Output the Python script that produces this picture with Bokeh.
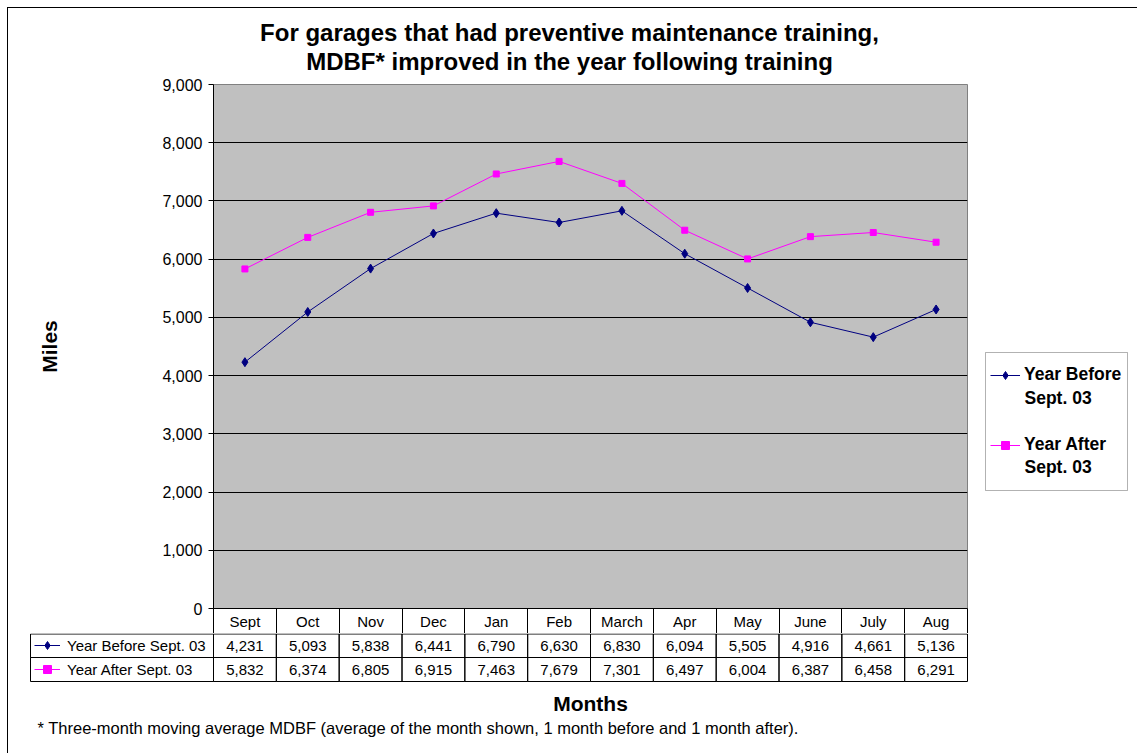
from bokeh.plotting import figure
from bokeh.layouts import column, row
from bokeh.models import (Range1d, FixedTicker, NumeralTickFormatter, Label, BoxAnnotation,
                          Legend, LegendItem, ColumnDataSource, LinearAxis)
from bokeh.core.properties import value
from bokeh.embed import file_html
from bokeh.resources import INLINE

months = ["Sept", "Oct", "Nov", "Dec", "Jan", "Feb", "March", "Apr", "May", "June", "July", "Aug"]
year_before = [4231, 5093, 5838, 6441, 6790, 6630, 6830, 6094, 5505, 4916, 4661, 5136]
year_after = [5832, 6374, 6805, 6915, 7463, 7679, 7301, 6497, 6004, 6387, 6458, 6291]
series_names = ["Year Before Sept. 03", "Year After Sept. 03"]
legend_first = ["Year Before", "Year After"]
legend_second = ["Sept. 03", "Sept. 03"]
y_ticks = [0, 1000, 2000, 3000, 4000, 5000, 6000, 7000, 8000, 9000]
title_lines = ["For garages that had preventive maintenance training,",
               "MDBF* improved in the year following training"]
footnote = "* Three-month moving average MDBF (average of the month shown, 1 month before and 1 month after)."

FONT = "Liberation Sans"
BLUE = "#000080"
MAGENTA = "#FF00FF"

OFF = 8                              # page offset of the figures (border + margin)
TOTAL_W = 1137 - OFF
FL, FR, FT, FB = 213, 967, 84, 608   # plot area edges (page px)
HDR = 633                            # bottom of table header row (page px)
T_BOT = 77                           # bottom of the title strip (page px)
P_RIGHT = 968                        # right edge of main figure (page px)

xs = list(range(len(months)))

# ---------------- title strip ----------------
t = figure(width=TOTAL_W, height=T_BOT - OFF, output_backend="svg", toolbar_location=None,
           x_range=Range1d(0, 1), y_range=Range1d(0, 1),
           x_axis_location=None, y_axis_location=None,
           min_border_left=0, min_border_right=0, min_border_top=0, min_border_bottom=0)
t.frame_align = False
t.outline_line_color = None
t.grid.visible = False
for line, py in zip(title_lines, [32, 61]):
    t.add_layout(Label(x=569 - OFF, y=T_BOT - py, x_units="screen", y_units="screen", text=line,
                       text_font=FONT, text_font_size="24px", text_font_style="bold",
                       text_align="center", text_baseline="middle", text_color="black"))

# ---------------- main chart ----------------
p = figure(width=P_RIGHT - OFF, height=HDR - T_BOT, output_backend="svg", toolbar_location=None,
           x_range=Range1d(-0.5, len(months) - 0.5), y_range=Range1d(0, 9000),
           x_axis_location=None,
           min_border_left=FL - OFF, min_border_right=P_RIGHT - FR,
           min_border_top=FT - T_BOT, min_border_bottom=HDR - FB)
p.frame_align = False
p.background_fill_color = "#C0C0C0"
p.border_fill_color = "white"
p.outline_line_color = "#808080"
p.xgrid.visible = False
p.ygrid.ticker = FixedTicker(ticks=y_ticks)
p.ygrid.grid_line_color = "black"
p.ygrid.grid_line_width = 1
yax = p.yaxis[0]
yax.ticker = FixedTicker(ticks=y_ticks)
yax.formatter = NumeralTickFormatter(format="0,0")
yax.major_tick_out = 5
yax.major_tick_in = 0
yax.minor_tick_line_color = None
yax.axis_line_color = "black"
yax.major_tick_line_color = "black"
yax.major_label_text_font = FONT
yax.major_label_text_font_size = "16px"
yax.major_label_text_color = "black"
yax.major_label_standoff = 6
yax.axis_label = "Miles"
yax.axis_label_text_font = FONT
yax.axis_label_text_font_size = "21px"
yax.axis_label_text_font_style = "bold"
yax.axis_label_text_color = "black"
yax.axis_label_standoff = 98

# month header row of the data table = the x axis
row_h = HDR - FB
xax = LinearAxis(ticker=FixedTicker(ticks=xs, minor_ticks=[i - 0.5 for i in xs] + [len(xs) - 0.5]),
                 major_label_overrides={i: m for i, m in enumerate(months)},
                 major_tick_out=0, major_tick_in=0, major_tick_line_color=None,
                 minor_tick_out=row_h, minor_tick_in=0, minor_tick_line_color="black",
                 axis_line_color="black", major_label_standoff=4 - row_h,
                 major_label_text_font=FONT, major_label_text_font_size="15px",
                 major_label_text_color="black")
p.add_layout(xax, "below")

lb = p.line(xs, year_before, line_color=BLUE, line_width=1)
sb = p.scatter(xs, year_before, marker="diamond", size=9, fill_color=BLUE, line_color=BLUE)
la = p.line(xs, year_after, line_color=MAGENTA, line_width=1)
sa = p.scatter(xs, year_after, marker="square", size=6, fill_color=MAGENTA, line_color=MAGENTA)

# ---------------- legend strip ----------------
r = figure(width=1137 - P_RIGHT, height=HDR - T_BOT, output_backend="svg", toolbar_location=None,
           x_range=Range1d(0, 1), y_range=Range1d(0, 1),
           x_axis_location=None, y_axis_location=None,
           min_border_left=0, min_border_right=0, min_border_top=0, min_border_bottom=0)
r.frame_align = False
r.outline_line_color = None
r.grid.visible = False
# legend keys reuse the real series (they fall outside this strip's ranges)
rb_l = r.line(xs, year_before, line_color=BLUE, line_width=1)
rb_s = r.scatter(xs, year_before, marker="diamond", size=9, fill_color=BLUE, line_color=BLUE)
ra_l = r.line(xs, year_after, line_color=MAGENTA, line_width=1)
ra_s = r.scatter(xs, year_after, marker="square", size=6, fill_color=MAGENTA, line_color=MAGENTA)


def ry(py):
    return HDR - py


r.add_layout(BoxAnnotation(left=985 - P_RIGHT, right=1127 - P_RIGHT, top=ry(352), bottom=ry(490),
                           left_units="screen", right_units="screen",
                           top_units="screen", bottom_units="screen",
                           fill_alpha=0.0, line_color="black", line_width=1))
legend = Legend(items=[LegendItem(label=legend_first[0], renderers=[rb_l, rb_s]),
                       LegendItem(label=legend_first[1], renderers=[ra_l, ra_s])],
                location=(990 - P_RIGHT, ry(455)), margin=0, padding=0, spacing=49,
                glyph_width=30, glyph_height=20, label_height=20, label_standoff=4,
                border_line_color=None, background_fill_alpha=0.0,
                label_text_font=FONT, label_text_font_size="17.5px",
                label_text_font_style="bold", label_text_color="black")
r.add_layout(legend)
for txt2, py in zip(legend_second, [397, 466]):
    r.add_layout(Label(x=1024 - P_RIGHT, y=ry(py), x_units="screen", y_units="screen", text=txt2,
                       text_font=FONT, text_font_size="17.5px", text_font_style="bold",
                       text_align="left", text_baseline="middle", text_color="black"))

# ---------------- data table rows + footer ----------------
cw = (FR - FL) / len(months)
HB = 753 - HDR


def dx(px):
    return (px - FL) / cw - 0.5


q = figure(width=TOTAL_W, height=HB, output_backend="svg", toolbar_location=None,
           x_range=Range1d(dx(OFF), dx(1137)), y_range=Range1d(HB, 0),
           x_axis_location=None, y_axis_location=None,
           min_border_left=0, min_border_right=0, min_border_top=0, min_border_bottom=0)
q.frame_align = False
q.outline_line_color = None
q.grid.visible = False

rows = [0.5, 24, 48]
row_mid = [(rows[k] + rows[k + 1]) / 2 for k in range(2)]

cells = ColumnDataSource(dict(
    left=[i - 0.5 for i in xs] * 2 + [dx(30)] * 2,
    right=[i + 0.5 for i in xs] * 2 + [-0.5] * 2,
    top=[rows[0]] * 12 + [rows[1]] * 12 + [rows[0], rows[1]],
    bottom=[rows[1]] * 12 + [rows[2]] * 12 + [rows[1], rows[2]],
))
q.quad(left="left", right="right", top="top", bottom="bottom", source=cells,
       fill_alpha=0, line_color="black", line_width=1)

txt = ColumnDataSource(dict(
    x=xs * 2,
    y=[row_mid[0]] * 12 + [row_mid[1]] * 12,
    t=[f"{v:,}" for v in year_before] + [f"{v:,}" for v in year_after],
))
q.text(x="x", y="y", text="t", source=txt, text_align="center", text_baseline="middle",
       text_font=value(FONT), text_font_size="15px", text_color="black")

kb_l = q.line(xs, year_before, line_color=BLUE, line_width=1)
kb_s = q.scatter(xs, year_before, marker="diamond", size=9, fill_color=BLUE, line_color=BLUE)
ka_l = q.line(xs, year_after, line_color=MAGENTA, line_width=1)
ka_s = q.scatter(xs, year_after, marker="square", size=6, fill_color=MAGENTA, line_color=MAGENTA)
tleg = Legend(items=[LegendItem(label=series_names[0], renderers=[kb_l, kb_s]),
                     LegendItem(label=series_names[1], renderers=[ka_l, ka_s])],
              location=(34 - OFF, HB - 36 - 10), margin=0, padding=0,
              spacing=4, glyph_width=26, glyph_height=20, label_height=20,
              label_standoff=7, border_line_color=None, background_fill_alpha=0.0,
              label_text_font=FONT, label_text_font_size="15px", label_text_color="black")
q.add_layout(tleg)

q.add_layout(Label(x=590 - OFF, y=753 - 703, x_units="screen", y_units="screen", text="Months",
                   text_font=FONT, text_font_size="21px", text_font_style="bold",
                   text_align="center", text_baseline="middle", text_color="black"))
q.add_layout(Label(x=37 - OFF, y=753 - 727, x_units="screen", y_units="screen", text=footnote,
                   text_font=FONT, text_font_size="16.5px",
                   text_align="left", text_baseline="middle", text_color="black"))

layout = column(t, row(p, r, spacing=0), q, spacing=0,
                styles={"margin-left": "7px", "margin-top": "7px",
                        "border-left": "1px solid #000", "border-top": "1px solid #000"})

open("out.html", "w").write(file_html(layout, INLINE))
